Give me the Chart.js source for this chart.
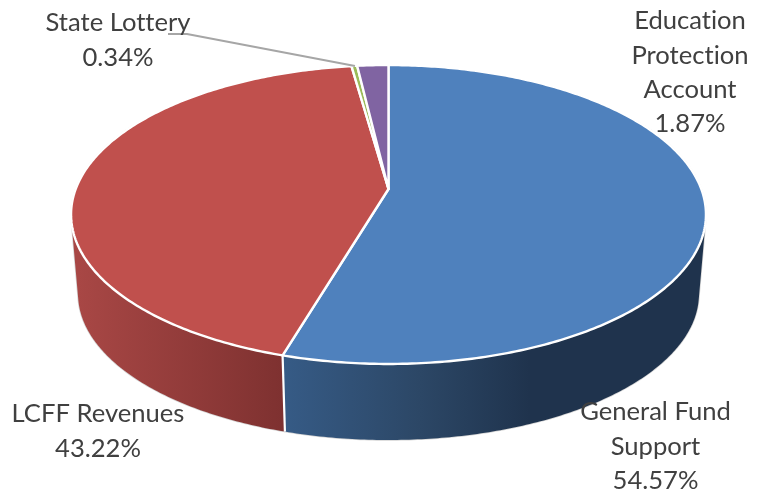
<!DOCTYPE html>
<html>
<head>
<meta charset="utf-8">
<style>html,body{margin:0;padding:0;background:#fff}canvas{display:block}</style>
<script src="https://cdn.jsdelivr.net/npm/chart.js@4"></script>
</head>
<body>
<canvas id="c" width="759" height="499"></canvas>
<script>
const categories = ["General Fund Support", "LCFF Revenues", "State Lottery", "Education Protection Account"];
const shares = [54.57, 43.22, 0.34, 1.87];
const labelLines = [["General Fund", "Support"], ["LCFF Revenues"], ["State Lottery"], ["Education", "Protection", "Account"]];
const labelAnchors = [[655.5, 412], [98, 414], [118, 23], [690, 21]];
const topColors = ["#4f81bd", "#c0504d", "#9bbb59", "#8064a2"];
const sideStops = [
  [[283, "#365b86"], [420, "#2c4766"], [530, "#1f334d"], [706, "#1f334d"]],
  [[78, "#a84745"], [284, "#7e3130"]],
  null, null
];

// Perspective tilt of the disc: top face and (smaller, lower) bottom face
const topFace = {cx: 388.5, cy: 189, a: 312.8, b: 145.1, k: 0.1706};
const bottomFace = {cx: 388.5, cy: 268.9, a: 305.9, b: 141.9, k: 0.1706};
const leader = [[168, 34], [187, 34], [355, 66]];

function project(f, t) {
  const u = Math.cos(t), v = Math.sin(t), w = 1 - f.k * v;
  return [f.cx + f.a * u / w, f.cy + f.b * v / w];
}
function addPoly(ctx, pts) {
  pts.forEach((p, i) => i ? ctx.lineTo(p[0], p[1]) : ctx.moveTo(p[0], p[1]));
  ctx.closePath();
}
function oriented(q) {
  let area = 0;
  q.forEach((p, i) => { const r = q[(i + 1) % q.length]; area += p[0] * r[1] - r[0] * p[1]; });
  return area < 0 ? q.slice().reverse() : q;
}

const pie3d = {
  id: "pie3d",
  beforeDatasetDraw(chart) {
    const ctx = chart.ctx, arcs = chart.getDatasetMeta(0).data;
    ctx.save();
    ctx.lineJoin = "round";
    const minT = -Math.PI / 6, maxT = 7 * Math.PI / 6;
    const walls = [];
    arcs.forEach((arc, i) => {
      const t1 = Math.max(arc.startAngle, minT), t2 = Math.min(arc.endAngle, maxT);
      if (t2 <= t1 || !sideStops[i]) return;
      const n = Math.ceil((t2 - t1) * 90), quads = [];
      for (let j = 0; j < n; j++) {
        const a = t1 + (t2 - t1) * j / n, b = t1 + (t2 - t1) * (j + 1) / n;
        quads.push(oriented([project(topFace, a), project(topFace, b), project(bottomFace, b), project(bottomFace, a)]));
      }
      const stops = sideStops[i];
      const g = ctx.createLinearGradient(stops[0][0], 0, stops[stops.length - 1][0], 0);
      const span = stops[stops.length - 1][0] - stops[0][0];
      stops.forEach(s => g.addColorStop((s[0] - stops[0][0]) / span, s[1]));
      walls.push({quads, g});
    });
    // each wall is one path (union of swept quads); pale outline, then fill
    walls.forEach(w => {
      ctx.beginPath();
      w.quads.forEach(q => addPoly(ctx, q));
      ctx.strokeStyle = "#d4d4d4"; ctx.lineWidth = 1.5;
      ctx.stroke();
    });
    walls.forEach(w => {
      ctx.beginPath();
      w.quads.forEach(q => addPoly(ctx, q));
      ctx.fillStyle = w.g;
      ctx.fill("nonzero");
    });
    // white seams between walls
    ctx.strokeStyle = "#fff"; ctx.lineWidth = 2.2;
    arcs.forEach(arc => {
      const t = arc.startAngle;
      if (t > minT && t < maxT) {
        const p = project(topFace, t), q = project(bottomFace, t);
        ctx.beginPath(); ctx.moveTo(p[0], p[1]); ctx.lineTo(q[0], q[1]); ctx.stroke();
      }
    });
    // top face slices
    arcs.forEach((arc, i) => {
      const pts = [[topFace.cx, topFace.cy]];
      const n = Math.max(4, Math.ceil((arc.endAngle - arc.startAngle) * 80));
      for (let j = 0; j <= n; j++) pts.push(project(topFace, arc.startAngle + (arc.endAngle - arc.startAngle) * j / n));
      ctx.beginPath();
      addPoly(ctx, pts);
      ctx.fillStyle = topColors[i];
      ctx.fill();
      ctx.strokeStyle = "#fff"; ctx.lineWidth = 2.4;
      ctx.stroke();
    });
    // leader line
    ctx.strokeStyle = "#a6a6a6"; ctx.lineWidth = 2;
    ctx.beginPath();
    leader.forEach((p, i) => i ? ctx.lineTo(p[0], p[1]) : ctx.moveTo(p[0], p[1]));
    ctx.stroke();
    // data labels
    ctx.fillStyle = "#404040";
    ctx.font = '25.6px Lato';
    ctx.textRendering = "optimizeSpeed";
    ctx.textAlign = "center";
    ctx.textBaseline = "middle";
    const lineGap = 34.3;
    categories.forEach((c, i) => {
      const lines = labelLines[i].concat(shares[i].toFixed(2) + "%");
      lines.forEach((l, j) => ctx.fillText(l, labelAnchors[i][0], labelAnchors[i][1] + j * lineGap));
    });
    ctx.restore();
    return false;
  }
};

new Chart(document.getElementById("c"), {
  type: "pie",
  data: {labels: categories, datasets: [{data: shares, backgroundColor: topColors}]},
  options: {
    responsive: false,
    animation: false,
    events: [],
    plugins: {legend: {display: false}, tooltip: {enabled: false}}
  },
  plugins: [pie3d]
});
</script>
</body>
</html>
